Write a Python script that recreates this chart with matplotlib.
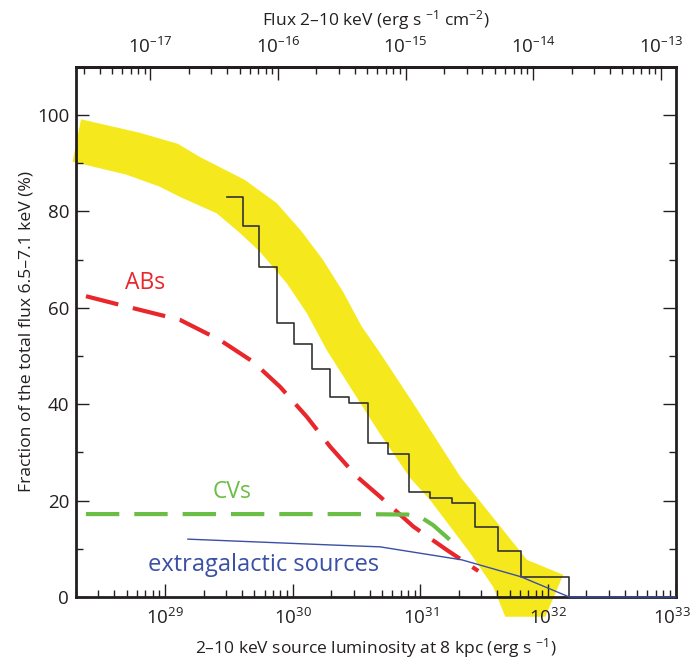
import numpy as np
import matplotlib
matplotlib.use("Agg")
import matplotlib.pyplot as plt
import matplotlib.transforms as mtransforms
from matplotlib.ticker import LogLocator, MultipleLocator, NullFormatter, FixedLocator

plt.rcParams['font.family'] = ['Open Sans', 'DejaVu Sans']
plt.rcParams['mathtext.fontset'] = 'custom'
plt.rcParams['mathtext.rm'] = 'Open Sans'
plt.rcParams['mathtext.it'] = 'Open Sans'

# ---------------- data (log10 luminosity in erg/s, percent) ----------------
band_upper_logL = [28.34, 28.80, 29.10, 29.27, 29.625, 29.874, 30.07, 30.237, 30.394,
                   30.54, 30.684, 30.943, 31.311, 31.835, 32.119]
band_upper_pct = [99.1, 96.3, 94.0, 91.3, 86.5, 81.7, 75.8, 69.9, 63.3,
                  56.1, 50.6, 40.2, 25.0, 7.7, 4.6]
band_lower_logL = [28.274, 28.697, 28.958, 29.115, 29.403, 29.586, 29.743, 29.952, 30.109,
                   30.266, 30.58, 30.684, 30.919, 31.076, 31.39, 31.57, 31.665, 31.978]
band_lower_pct = [90.3, 87.6, 85.1, 83.0, 79.6, 75.5, 71.6, 65.1, 58.9,
                  51.2, 38.1, 33.8, 24.7, 20.1, 9.1, 2.1, -4.1, -4.1]

step_edges_logL = [29.482, 29.607, 29.737, 29.874, 30.009, 30.148, 30.292, 30.443, 30.592,
                   30.749, 30.914, 31.076, 31.246, 31.429, 31.604, 31.787, 32.166]
step_pct = [83.05, 76.97, 68.53, 56.78, 52.49, 47.24, 41.56, 40.31, 32.01,
            29.6, 21.85, 20.48, 19.44, 14.59, 9.61, 4.21]

abs_logL = [28.379, 28.645, 29.115, 29.429, 29.688, 29.90, 30.109, 30.292, 30.501,
            30.684, 30.945, 31.207, 31.453]
abs_pct = [62.4, 60.6, 57.5, 53.3, 48.8, 43.6, 37.4, 31.2, 25.0, 20.8, 14.6, 9.75, 5.4]

cvs_logL = [28.379, 29.5, 30.5, 30.9, 31.0, 31.1, 31.25]
cvs_pct = [17.2, 17.2, 17.2, 17.1, 16.6, 14.9, 11.4]

xgal_logL = [29.178, 30.292, 30.684, 31.325, 31.787, 32.166, 33.0]
xgal_pct = [12.0, 10.8, 10.4, 7.7, 4.2, 0.0, 0.0]

lum_tick_exp = [29, 30, 31, 32, 33]
flux_tick_exp = [-17, -16, -15, -14, -13]

distance_kpc = 8.0
KPC_CM = 3.0857e21

YELLOW = '#F5E91E'
RED = '#E8262B'
GREEN = '#6BBE45'
BLUE = '#3A4FA5'
INK = '#231F20'

# ---------------- figure ----------------
fig = plt.figure(figsize=(6.93, 6.62), dpi=100)
ax = fig.add_axes([0.1097, 0.0982, 0.975 - 0.1097, 0.8992 - 0.0982])
ax.set_xscale('log')
ax.set_xlim(2e28, 1e33)
ax.set_ylim(0, 110)

L = lambda a: 10 ** np.asarray(a, dtype=float)

# yellow band
bx = np.concatenate([L(band_upper_logL), L(band_lower_logL)[::-1]])
by = np.concatenate([band_upper_pct, band_lower_pct[::-1]])
ax.fill(bx, by, color=YELLOW, lw=0, zorder=1, clip_on=False)

# staircase
ax.step(L(step_edges_logL), list(step_pct) + [0.0], where='post',
        color='#333333', lw=1.2, zorder=4)

# ABs
ax.plot(L(abs_logL), abs_pct, color=RED, lw=3.0, dashes=(8, 3.6), zorder=3,
        dash_capstyle='butt')
# CVs
ax.plot(L(cvs_logL), cvs_pct, color=GREEN, lw=3.0, dashes=(8, 3.6), zorder=3,
        dash_capstyle='butt')
# extragalactic
ax.plot(L(xgal_logL), xgal_pct, color=BLUE, lw=1.0, zorder=6, clip_on=False)

ax.text(L(28.84), 65.1, 'ABs', color=RED, fontsize=16.5, ha='center', va='center')
ax.text(L(29.52), 21.8, 'CVs', color=GREEN, fontsize=16.5, ha='center', va='center')
ax.text(L(29.77), 6.6, 'extragalactic sources', color=BLUE, fontsize=17,
        ha='center', va='center')

# axes styling
for s in ax.spines.values():
    s.set_linewidth(2.0)
    s.set_color(INK)
ax.yaxis.set_major_locator(MultipleLocator(20))
ax.yaxis.set_minor_locator(MultipleLocator(10))
ax.set_yticks([0, 20, 40, 60, 80, 100])
ax.xaxis.set_major_locator(FixedLocator(L(lum_tick_exp)))
ax.xaxis.set_minor_locator(LogLocator(base=10, subs=np.arange(2, 10), numticks=20))
ax.xaxis.set_minor_formatter(NullFormatter())
ax.xaxis.set_major_formatter(plt.FuncFormatter(
    lambda v, p: '$\\mathregular{10^{%d}}$' % int(round(np.log10(v)))))
ax.tick_params(axis='both', which='major', direction='in', length=9.5, width=1.0,
               color=INK, labelsize=13.5, labelcolor=INK)
ax.tick_params(axis='both', which='minor', direction='in', length=5, width=1.0,
               color=INK)
ax.tick_params(axis='y', which='both', right=True, left=True)
ax.tick_params(axis='y', which='major', pad=5)
ax.tick_params(axis='x', which='major', pad=8)

ax.set_xlabel('2\u201310 keV source luminosity at 8 kpc (erg s $^{\\mathregular{\u22121}}$)',
              fontsize=12.5, color=INK, labelpad=6)
ax.set_ylabel('Fraction of the total flux 6.5\u20137.1 keV (%)', fontsize=12.6,
              color=INK, labelpad=2)

# top flux axis
fac = 4 * np.pi * (distance_kpc * KPC_CM) ** 2
sec = ax.secondary_xaxis('top', functions=(lambda x: x / fac, lambda f: f * fac))
sec.xaxis.set_major_locator(FixedLocator(L(flux_tick_exp)))
sec.xaxis.set_minor_locator(LogLocator(base=10, subs=np.arange(2, 10), numticks=20))
sec.xaxis.set_minor_formatter(NullFormatter())
sec.xaxis.set_major_formatter(plt.FuncFormatter(
    lambda v, p: '$\\mathregular{10^{\u2013%d}}$' % abs(int(round(np.log10(v))))))
sec.tick_params(axis='x', which='major', direction='in', length=9.5, width=1.0,
                color=INK, labelsize=13.5, labelcolor=INK, pad=7)
sec.tick_params(axis='x', which='minor', direction='in', length=5, width=1.0,
                color=INK)
sec.spines['top'].set_linewidth(2.0)
sec.set_xlabel('Flux 2\u201310 keV (erg s $^{\\mathregular{\u22121}}$ cm$^{\\mathregular{\u22122}}$)',
               fontsize=12.5, color=INK, labelpad=8)

# keep the rightmost luminosity label inside the canvas
fig.canvas.draw()
last = ax.xaxis.get_major_ticks()[-1].label1
last.set_transform(last.get_transform() +
                   mtransforms.ScaledTranslation(-3 / 72, 0, fig.dpi_scale_trans))

fig.savefig('out.png', dpi=100)
